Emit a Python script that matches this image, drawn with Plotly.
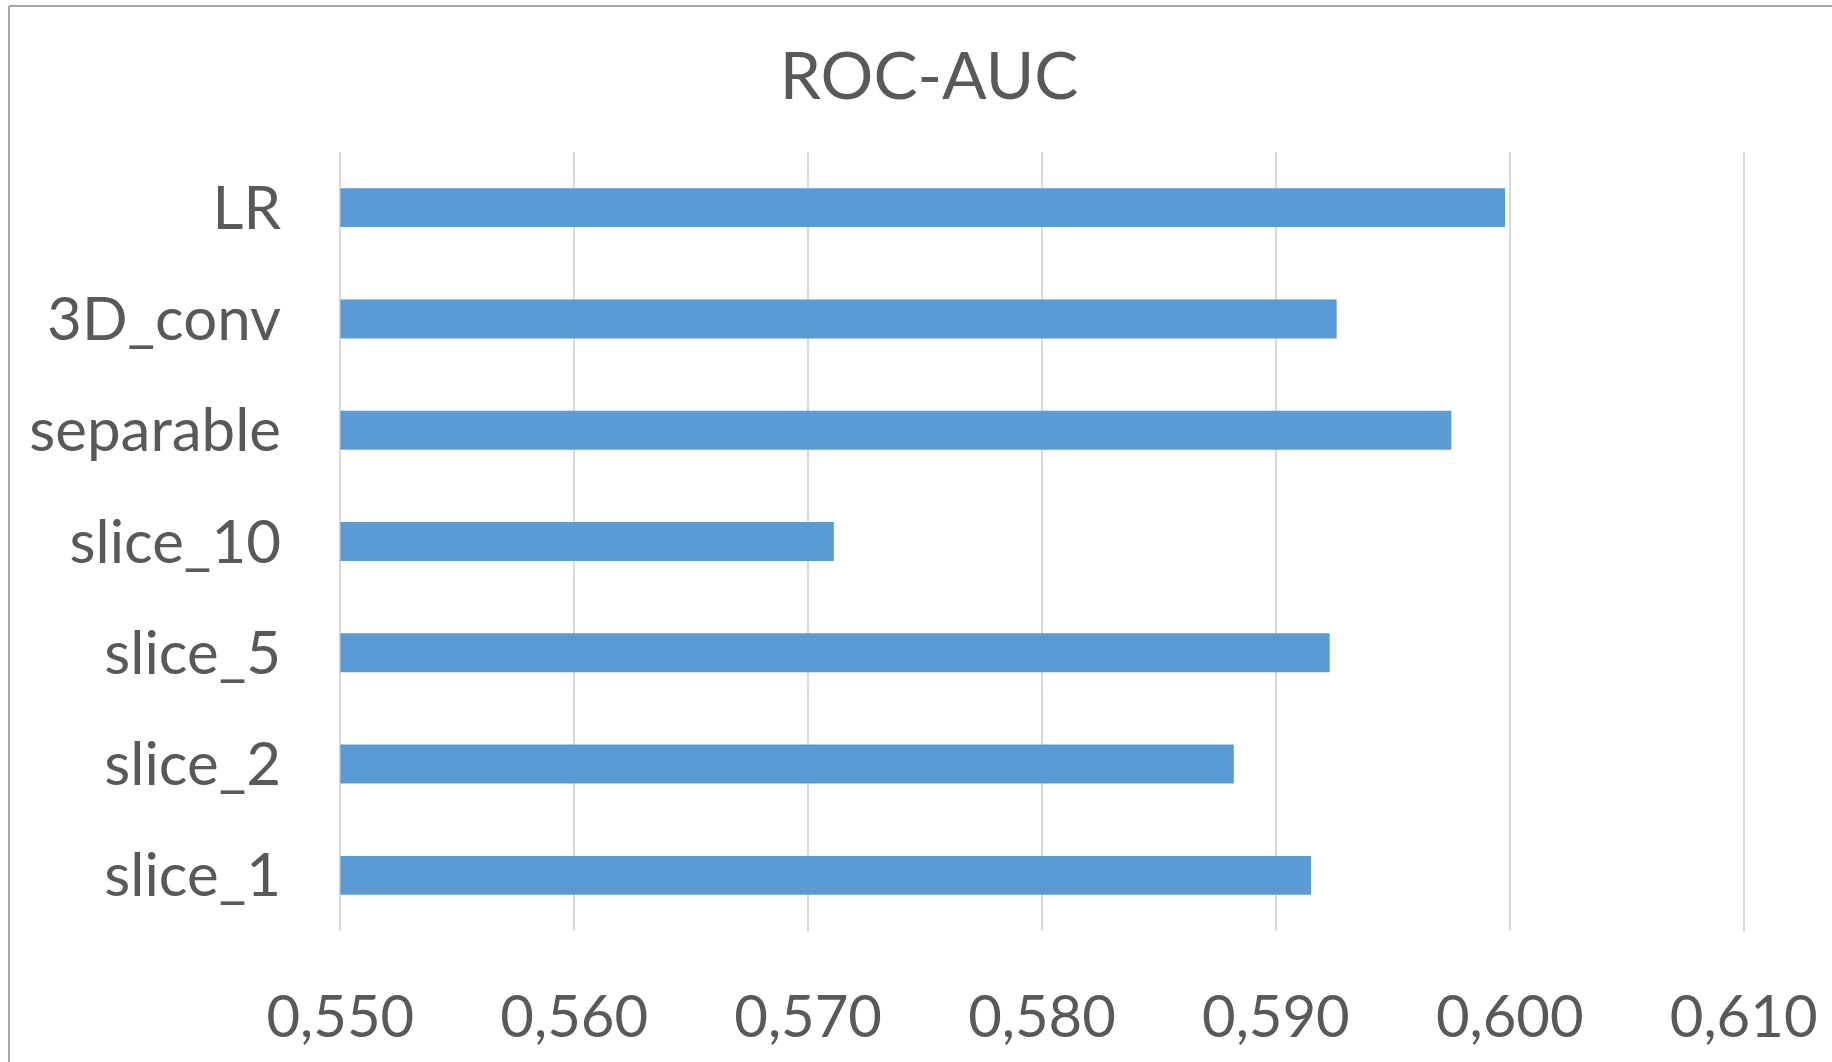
import plotly.graph_objects as go

categories = ["slice_1", "slice_2", "slice_5", "slice_10", "separable", "3D_conv", "LR"]
roc_auc = [0.5915, 0.5882, 0.5923, 0.5711, 0.5975, 0.5926, 0.5998]
tick_vals = [0.55, 0.56, 0.57, 0.58, 0.59, 0.60, 0.61]
axis_start = tick_vals[0]

W, H = 1832, 1062
L, R, T, B = 338, 86, 152, 131
pw, ph = W - L - R, H - T - B

text_color = "#595959"
font_family = "Lato, 'Open Sans', sans-serif"

fig = go.Figure(
    go.Bar(
        y=categories,
        x=[v - axis_start for v in roc_auc],
        base=axis_start,
        orientation="h",
        marker=dict(color="#5B9BD5", line=dict(width=0)),
        customdata=roc_auc,
        hovertemplate="%{y}: %{customdata:.4f}<extra></extra>",
    )
)

# chart border (left and top visible in reference)
bx = (9 - L) / pw
by_top = (H - B - 6) / ph
fig.add_shape(type="line", xref="paper", yref="paper", x0=bx, x1=bx, y0=-1, y1=by_top,
              line=dict(color="#A6A6A6", width=2))
fig.add_shape(type="line", xref="paper", yref="paper", x0=bx, x1=2, y0=by_top, y1=by_top,
              line=dict(color="#A6A6A6", width=2))

fig.update_layout(
    width=W,
    height=H,
    margin=dict(l=L, r=R, t=T, b=B),
    paper_bgcolor="white",
    plot_bgcolor="white",
    separators=", ",
    bargap=0.65,
    showlegend=False,
    font=dict(family=font_family, color=text_color),
    title=dict(
        text="ROC-AUC",
        x=929 / W,
        xref="container",
        xanchor="center",
        y=1 - 76 / H,
        yref="container",
        yanchor="middle",
        font=dict(size=66, color=text_color, family=font_family),
    ),
    xaxis=dict(
        range=[0.5499, 0.6101],
        tickvals=tick_vals,
        tickformat=".3f",
        showgrid=True,
        gridcolor="#D9D9D9",
        gridwidth=2,
        zeroline=False,
        showline=False,
        ticks="",
        ticklabelstandoff=47,
        tickfont=dict(size=58, color=text_color, family=font_family),
    ),
    yaxis=dict(
        categoryorder="array",
        categoryarray=categories,
        showgrid=False,
        zeroline=False,
        showline=False,
        ticks="",
        ticklabelstandoff=56,
        tickfont=dict(size=60, color=text_color, family=font_family),
    ),
)

fig.write_html("out.html")
